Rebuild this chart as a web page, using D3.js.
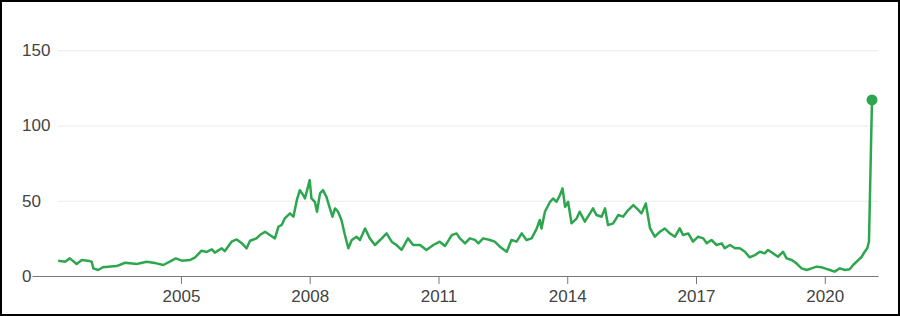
<!DOCTYPE html>
<html>
<head>
<meta charset="utf-8">
<script src="https://cdn.jsdelivr.net/npm/d3@7"></script>
<style>
  body { margin: 0; background: #fff; }
  svg { display: block; font-family: "Liberation Sans", Arial, sans-serif; }
</style>
</head>
<body>
<script>
// decimal years and closing prices
var lata = [2002.14,2002.30,2002.41,2002.57,2002.69,2002.83,2002.92,2002.96,2003.07,2003.18,
  2003.50,2003.70,2003.97,2004.20,2004.43,2004.59,2004.74,2004.88,2005.02,2005.21,
  2005.33,2005.48,2005.60,2005.72,2005.79,2005.95,2006.02,2006.18,2006.30,2006.41,
  2006.53,2006.61,2006.76,2006.84,2006.96,2007.07,2007.19,2007.27,2007.35,2007.42,
  2007.54,2007.62,2007.70,2007.77,2007.85,2007.89,2007.97,2008.00,2008.04,2008.12,
  2008.17,2008.24,2008.31,2008.39,2008.47,2008.53,2008.59,2008.66,2008.74,2008.82,
  2008.90,2008.98,2009.09,2009.17,2009.29,2009.40,2009.52,2009.64,2009.79,2009.91,
  2010.02,2010.14,2010.29,2010.41,2010.57,2010.72,2010.88,2011.03,2011.15,2011.31,
  2011.42,2011.50,2011.62,2011.73,2011.85,2011.93,2012.04,2012.20,2012.31,2012.43,
  2012.59,2012.70,2012.82,2012.94,2013.05,2013.17,2013.29,2013.36,2013.40,2013.48,
  2013.60,2013.67,2013.75,2013.83,2013.89,2013.95,2014.02,2014.10,2014.22,2014.29,
  2014.41,2014.53,2014.60,2014.68,2014.80,2014.88,2014.95,2015.07,2015.19,2015.30,
  2015.42,2015.54,2015.62,2015.73,2015.83,2015.93,2016.04,2016.16,2016.27,2016.39,
  2016.51,2016.62,2016.70,2016.82,2016.93,2017.05,2017.17,2017.25,2017.36,2017.48,
  2017.60,2017.67,2017.79,2017.91,2018.02,2018.14,2018.25,2018.37,2018.49,2018.60,
  2018.68,2018.80,2018.91,2019.03,2019.11,2019.23,2019.34,2019.46,2019.58,2019.69,
  2019.81,2019.92,2020.00,2020.12,2020.23,2020.35,2020.47,2020.58,2020.66,2020.78,
  2020.86,2020.93,2020.99,2021.03,2021.10]
var ceny = [10.2,9.5,11.7,8.0,10.6,10.2,9.5,5.1,4.0,5.8,
  6.6,8.8,8.0,9.5,8.4,7.3,9.5,11.7,10.2,10.6,
  12.4,16.8,16.0,17.7,15.5,18.4,16.5,22.8,24.3,22.0,
  18.4,23.4,25.0,27.2,29.4,27.2,25.0,32.7,34.0,38.3,
  41.6,39.4,50.4,57.0,53.7,51.5,60.4,63.7,51.5,49.3,
  42.7,54.9,57.0,52.6,44.9,39.4,44.9,42.7,37.2,27.2,
  18.4,23.9,26.1,23.9,31.6,25.0,20.6,23.9,28.3,22.8,
  20.6,17.3,25.0,20.6,20.6,17.3,20.6,22.8,19.9,27.2,
  28.3,25.0,21.7,25.0,24.0,21.7,25.0,23.9,22.8,19.5,
  16.1,23.9,22.8,28.3,23.9,25.0,31.6,37.2,31.6,42.7,
  49.3,51.5,49.3,53.7,58.2,46.0,49.3,35.0,38.3,42.7,
  36.1,41.6,44.9,40.5,39.4,44.9,33.8,35.0,40.5,39.4,
  43.8,47.1,44.9,41.6,48.2,31.6,26.1,29.4,31.6,28.3,
  26.1,31.6,27.2,28.3,22.8,26.1,25.0,21.7,23.9,20.6,
  21.7,18.4,20.6,18.4,18.4,16.1,12.4,13.9,16.1,15.0,
  17.3,15.0,12.8,16.1,11.7,10.6,8.4,5.1,4.0,5.1,
  6.2,5.8,5.1,4.0,2.9,5.1,4.0,4.5,7.3,10.6,
  12.8,16.1,18.4,23.0,117.0]
var rokiOs = [2005, 2008, 2011, 2014, 2017, 2020]
var cenyOs = [0, 50, 100, 150]

var dane = lata.map(function(d, i) { return {rok: d, cena: ceny[i]} })

var obrazek = d3.select("body").append("svg")
  .attr("width", 900)
  .attr("height", 316)

obrazek.append("rect").attr("x",1).attr("y",1).attr("width",898).attr("height",314)
  .style("fill","white").style("stroke","black").style("stroke-width",2)

var x = d3.scaleLinear().domain([2001.53, 2021.24]).range([32, 878])
var y = d3.scaleLinear().domain([0, 150]).range([276, 50.2])

// gridlines + y labels
var osY = obrazek.append("g")
  .attr("transform", "translate(58,0)")
  .call(d3.axisLeft(y).tickValues(cenyOs).tickSize(-(878-58)).tickFormat(d3.format("d")))
osY.select(".domain").remove()
osY.selectAll("line").style("stroke", "#ebebeb")
osY.selectAll("text")
  .attr("x", -36)
  .style("text-anchor", "start")
  .style("font-size", "17px")
  .style("fill", "#444")
  .style("font-family", "'Liberation Sans', Arial, sans-serif")

// x axis
var osX = obrazek.append("g")
  .attr("transform", "translate(0,276)")
  .call(d3.axisBottom(x).tickValues(rokiOs).tickSize(8).tickSizeOuter(0).tickPadding(6).tickFormat(d3.format("d")))
osX.select(".domain").style("stroke", "#777")
osX.selectAll("line").style("stroke", "#777")
osX.selectAll("text")
  .style("font-size", "17px")
  .style("fill", "#444")
  .style("font-family", "'Liberation Sans', Arial, sans-serif")

var linia = d3.line()
  .x(function(d) { return x(d.rok) })
  .y(function(d) { return y(d.cena) })

obrazek.append("path")
  .datum(dane)
  .attr("d", linia)
  .style("fill", "none")
  .style("stroke", "#2ea64f")
  .style("stroke-width", 2.5)
  .style("stroke-linejoin", "round")

var ostatni = dane[dane.length - 1]
obrazek.append("circle")
  .attr("cx", x(ostatni.rok))
  .attr("cy", y(ostatni.cena))
  .attr("r", 5.5)
  .style("fill", "#2ea64f")
</script>
</body>
</html>
